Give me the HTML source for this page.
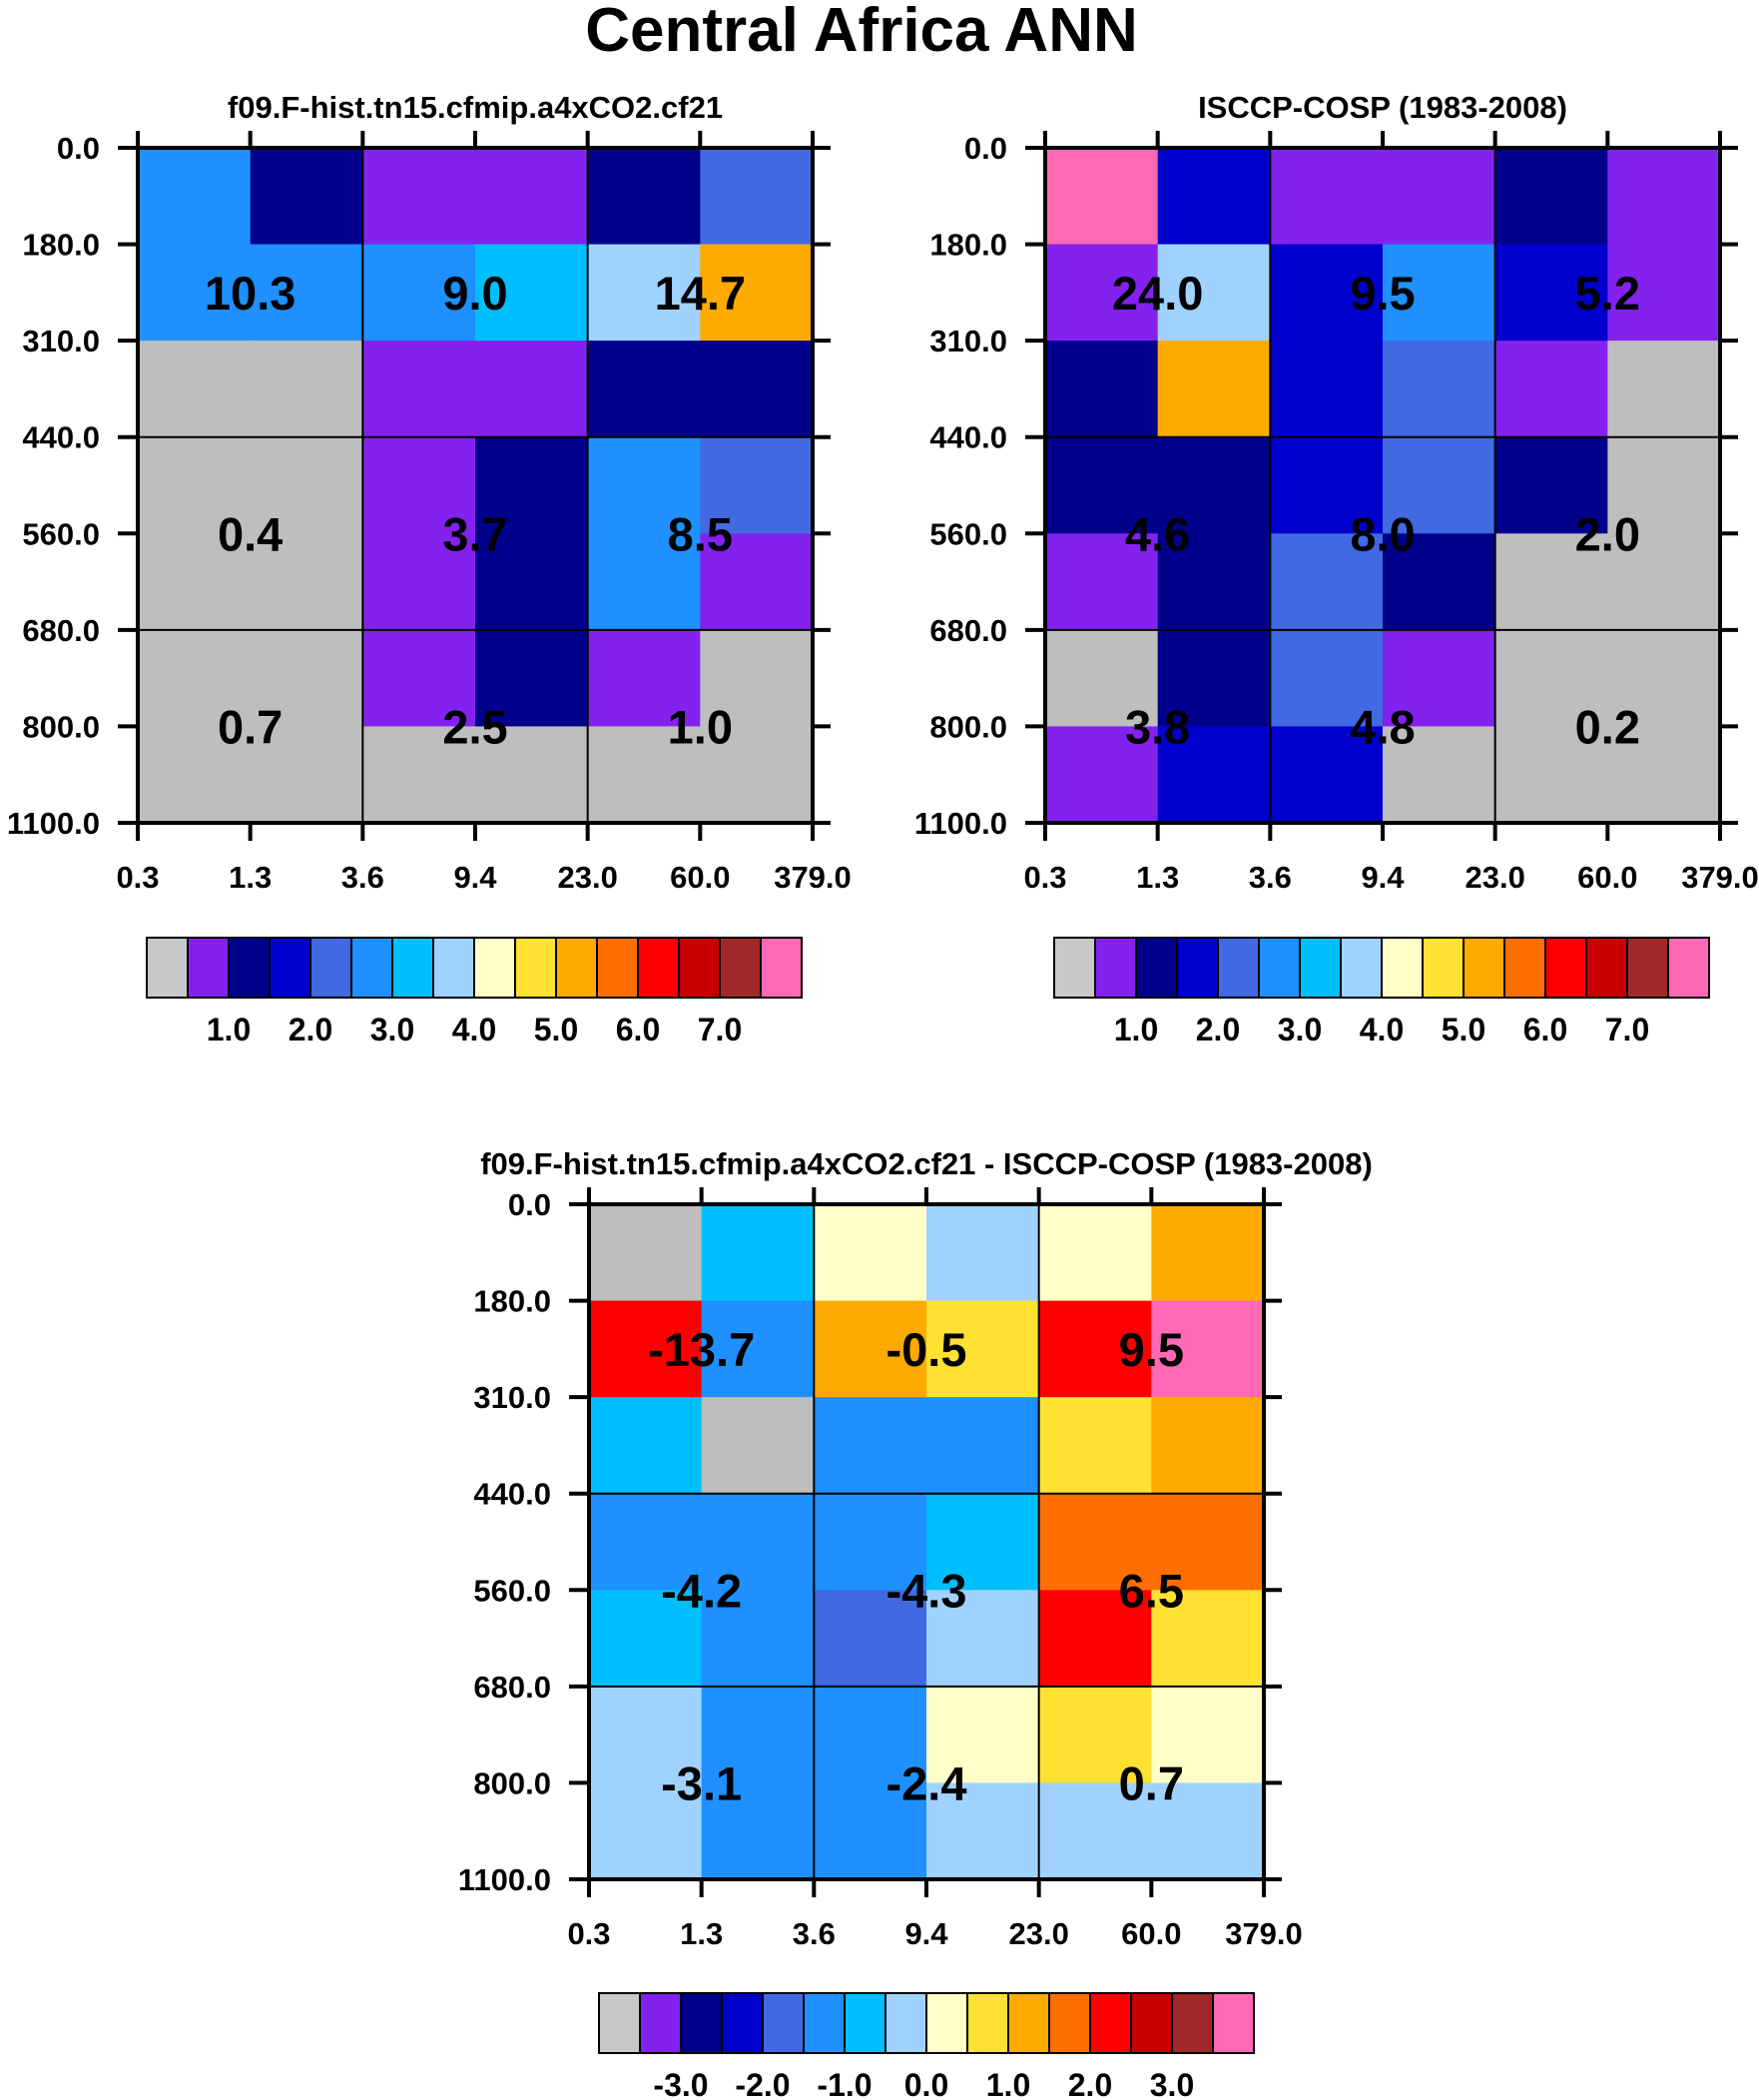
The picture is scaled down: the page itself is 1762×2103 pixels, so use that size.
<!DOCTYPE html>
<html><head><meta charset="utf-8"><style>
html,body{margin:0;padding:0;background:#fff;}
svg{display:block;font-family:"Liberation Sans",Arial,sans-serif;font-weight:bold;}
</style></head><body>
<svg id="chart" width="1762" height="2103" viewBox="0 0 1762 2103" xmlns="http://www.w3.org/2000/svg">
<text x="863" y="51" text-anchor="middle" font-size="62">Central Africa ANN</text>
</svg>
<script>
const palette = ["#BEBEBE","#8322EE","#00008B","#0000CD","#4169E1","#1E90FF","#00BFFF","#A0D2FF","#FFFFC8","#FFE132","#FFAA00","#FF6E00","#FF0000","#C80000","#A02828","#FF69B4"];
const xTickLabels = ["0.3","1.3","3.6","9.4","23.0","60.0","379.0"];
const yTickLabels = ["0.0","180.0","310.0","440.0","560.0","680.0","800.0","1100.0"];
const cbLabelsAbs = ["1.0","2.0","3.0","4.0","5.0","6.0","7.0"];
const cbLabelsDiff = ["-3.0","-2.0","-1.0","0.0","1.0","2.0","3.0"];
const titles = ["f09.F-hist.tn15.cfmip.a4xCO2.cf21","ISCCP-COSP (1983-2008)","f09.F-hist.tn15.cfmip.a4xCO2.cf21 - ISCCP-COSP (1983-2008)"];
const gridModel = [[5,2,1,1,2,4],[5,5,5,6,7,10],[0,0,1,1,2,2],[0,0,1,2,5,4],[0,0,1,2,5,1],[0,0,1,2,1,0],[0,0,0,0,0,0]];
const gridObs = [[15,3,1,1,2,1],[1,7,3,5,3,1],[2,10,3,4,1,0],[2,2,3,4,2,0],[1,2,4,2,0,0],[0,2,4,1,0,0],[1,3,3,0,0,0]];
const gridDiff = [[0,6,8,7,8,10],[12,5,10,9,12,15],[6,0,5,5,9,10],[5,5,5,6,11,11],[6,5,4,7,12,9],[7,5,5,8,9,8],[7,5,5,7,7,7]];
const valsModel = [["10.3","9.0","14.7"],["0.4","3.7","8.5"],["0.7","2.5","1.0"]];
const valsObs = [["24.0","9.5","5.2"],["4.6","8.0","2.0"],["3.8","4.8","0.2"]];
const valsDiff = [["-13.7","-0.5","9.5"],["-4.2","-4.3","6.5"],["-3.1","-2.4","0.7"]];

const NS="http://www.w3.org/2000/svg";
const svg=document.getElementById('chart');
function mk(tag,attrs,parent){const e=document.createElementNS(NS,tag);for(const k in attrs)e.setAttribute(k,attrs[k]);(parent||svg).appendChild(e);return e;}

function panel(px,py,grid,vals,title,cbx,cby,cbLabels,key){
  const W=676,H=676,nc=6,nr=7,cw=W/nc,rh=H/nr;
  const g=mk('g',{});
  
  
  const xS=i=>px+i*cw, yS=j=>py+j*rh;
  const t=mk('text',{x:px+W/2,y:py-30,'text-anchor':'middle','font-size':31},g);
  t.textContent=title;
  
  
  grid.forEach((row,j)=>row.forEach((c,i)=>{
    const r=mk('rect',{x:xS(i),y:yS(j),width:cw+0.6,height:rh+0.6,fill:palette[c]},g);
    
    
  }));
  [2,4].forEach(i=>mk('line',{x1:xS(i),x2:xS(i),y1:py,y2:py+H,stroke:'#000','stroke-width':2},g));
  [3,5].forEach(j=>mk('line',{x1:px,x2:px+W,y1:yS(j),y2:yS(j),stroke:'#000','stroke-width':2},g));
  mk('rect',{x:px,y:py,width:W,height:H,fill:'none',stroke:'#000','stroke-width':4},g);
  xTickLabels.forEach((l,i)=>{
    mk('line',{x1:xS(i),x2:xS(i),y1:py,y2:py-17,stroke:'#000','stroke-width':4},g);
    mk('line',{x1:xS(i),x2:xS(i),y1:py+H,y2:py+H+18,stroke:'#000','stroke-width':4},g);
    const tx=mk('text',{x:xS(i),y:py+H+65,'text-anchor':'middle','font-size':31},g);
    tx.textContent=l;
    
    
  });
  yTickLabels.forEach((l,j)=>{
    mk('line',{x1:px,x2:px-20,y1:yS(j),y2:yS(j),stroke:'#000','stroke-width':4},g);
    mk('line',{x1:px+W,x2:px+W+18,y1:yS(j),y2:yS(j),stroke:'#000','stroke-width':4},g);
    const ty=mk('text',{x:px-38,y:yS(j)+11,'text-anchor':'end','font-size':31},g);
    ty.textContent=l;
    
    
  });
  const groupRows=[[0,3],[3,5],[5,7]];
  vals.forEach((row,gj)=>row.forEach((v,gi)=>{
    const cx=xS(gi*2+1), cy=(yS(groupRows[gj][0])+yS(groupRows[gj][1]))/2;
    const tv=mk('text',{x:cx,y:cy+17,'text-anchor':'middle','font-size':47},g);
    tv.textContent=v;
    
    
  }));
  const cbW=656,bw=cbW/16,cbH=60;
  const cb=mk('g',{},g);
  
  
  palette.forEach((c,k)=>{
    mk('rect',{x:cbx+k*bw,y:cby,width:bw,height:cbH,fill:k===0?'#C8C8C8':c,stroke:'#000','stroke-width':2},cb);
  });
  cbLabels.forEach((l,k)=>{
    const tl=mk('text',{x:cbx+(2+2*k)*bw,y:cby+cbH+43,'text-anchor':'middle','font-size':32},cb);
    tl.textContent=l;
    
    
  });
}
panel(138,148,gridModel,valsModel,titles[0],147,939,cbLabelsAbs,'model');
panel(1047,148,gridObs,valsObs,titles[1],1056,939,cbLabelsAbs,'obs');
panel(590,1206,gridDiff,valsDiff,titles[2],600,1996,cbLabelsDiff,'diff');
</script>
</body></html>
